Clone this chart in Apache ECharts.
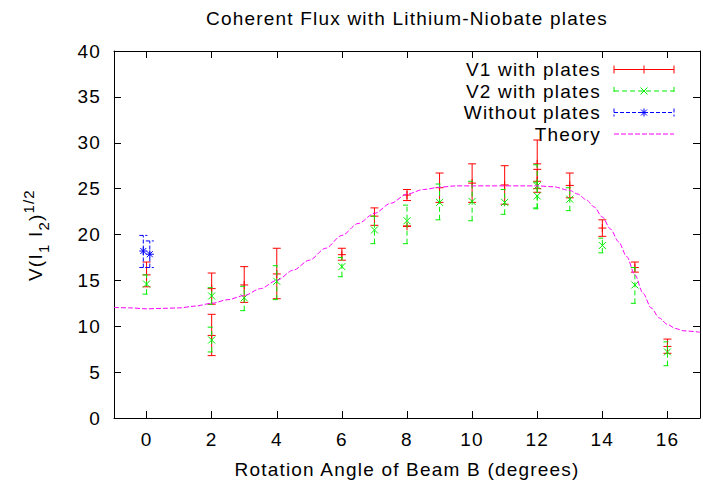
<!DOCTYPE html>
<html><head><meta charset="utf-8">
<script src="https://cdn.jsdelivr.net/npm/echarts@6/dist/echarts.min.js"></script>
<style>
html,body{margin:0;padding:0;background:#fff;}
#main{width:703px;height:484px;}
#main svg text{letter-spacing:1.2px;}
</style></head><body><div id="main"></div>
<script>
// ---- data ----
const xTickValues = [0, 2, 4, 6, 8, 10, 12, 14, 16];
const titleText = 'Coherent Flux with Lithium-Niobate plates';
const xAxisTitle = 'Rotation Angle of Beam B (degrees)';
const legendNames = ['V1 with plates', 'V2 with plates', 'Without plates', 'Theory'];

const v1X  = [0, 2, 2, 3, 4, 6, 7, 8, 8, 9, 10, 11, 12, 12, 13, 14, 15, 16];
const v1Y  = [15.6, 14.1, 9.0, 14.5, 15.7, 17.8, 22.0, 24.3, 20.9, 25.1, 25.6, 25.4, 27.7, 25.8, 25.35, 20.7, 16.4, 7.8];
const v1Lo = [14.3, 12.4, 6.8, 12.6, 13.0, 17.2, 21.0, 23.7, 20.9, 23.5, 23.5, 23.3, 25.0, 24.6, 24.0, 19.8, 15.9, 7.05];
const v1Hi = [17.0, 15.8, 11.3, 16.5, 18.5, 18.5, 22.9, 24.9, 20.9, 26.7, 27.7, 27.5, 30.3, 27.1, 26.7, 21.6, 17.0, 8.6];

const v2X  = [0, 2, 2, 3, 4, 6, 7, 8, 9, 10, 11, 12, 12, 13, 14, 15, 16];
const v2Y  = [14.6, 13.3, 8.5, 13.1, 14.9, 16.5, 20.5, 21.5, 23.5, 23.6, 23.5, 24.2, 25.3, 23.85, 18.8, 14.5, 7.2];
const v2Lo = [13.5, 12.4, 7.2, 11.7, 12.9, 15.4, 19.0, 19.0, 21.6, 21.5, 22.2, 22.8, 22.9, 22.6, 18.0, 12.5, 5.7];
const v2Hi = [15.6, 14.2, 9.9, 14.35, 16.6, 17.5, 22.0, 23.2, 25.5, 25.8, 24.9, 25.7, 27.6, 25.1, 19.6, 16.4, 8.3];

const noX  = [-0.1, 0.1];
const noY  = [18.2, 17.85];
const noLo = [16.4, 16.4];
const noHi = [19.9, 19.3];

const thX = [-1, -0.5, 0, 0.5, 1, 1.5, 2, 2.5, 3, 3.5, 4, 4.5, 5, 5.5, 6, 6.5, 7, 7.5, 8, 8.5, 9, 9.5, 10, 10.5, 11, 11.5, 12, 12.5, 13, 13.25, 13.5, 13.75, 14, 14.25, 14.5, 14.75, 15, 15.25, 15.5, 15.75, 16, 16.25, 16.5, 17];
const thY = [12.05, 12.0, 11.9, 11.95, 12.0, 12.2, 12.5, 12.9, 13.35, 14.1, 15.0, 16.1, 17.2, 18.5, 19.9, 21.2, 22.3, 23.4, 24.4, 24.9, 25.15, 25.3, 25.3, 25.3, 25.3, 25.3, 25.3, 25.2, 24.8, 24.4, 23.8, 23.0, 21.9, 20.6, 19.2, 17.6, 15.6, 13.6, 12.0, 10.9, 10.2, 9.75, 9.5, 9.35];

// ---- styles ----
const FONT = 'Liberation Sans';
const FS = 19;
const RED = '#ff0000', GREEN = '#00ee00', BLUE = '#0000ff', MAG = '#ff00ff';
const CAP = 4;

function markerShapes(kind, cx, cy, color) {
  const s = [];
  const st = {stroke: color, lineWidth: 1, fill: null};
  const L = (x1, y1, x2, y2) => s.push({type: 'line', shape: {x1, y1, x2, y2}, style: st});
  if (kind === 'plus') { L(cx - 4, cy, cx + 4, cy); L(cx, cy - 4, cx, cy + 4); }
  if (kind === 'cross') { L(cx - 3.5, cy - 3.5, cx + 3.5, cy + 3.5); L(cx - 3.5, cy + 3.5, cx + 3.5, cy - 3.5); }
  if (kind === 'star') {
    L(cx - 4, cy, cx + 4, cy); L(cx, cy - 4, cx, cy + 4);
    L(cx - 3, cy - 3, cx + 3, cy + 3); L(cx - 3, cy + 3, cx + 3, cy - 3);
  }
  return s;
}

function errSeries(name, xs, ys, lo, hi, color, dash, kind) {
  return {
    name, type: 'custom', xAxisIndex: 0, yAxisIndex: 0,
    data: xs.map((x, i) => [x, ys[i], lo[i], hi[i]]),
    encode: {x: 0, y: 1},
    clip: true,
    renderItem: function (params, api) {
      const x = api.value(0);
      const p = api.coord([x, api.value(1)]);
      const pl = api.coord([x, api.value(2)]);
      const ph = api.coord([x, api.value(3)]);
      const st = {stroke: color, lineWidth: 1, fill: null, lineDash: dash};
      const ch = [
        {type: 'line', shape: {x1: pl[0], y1: pl[1], x2: ph[0], y2: ph[1]}, style: st},
        {type: 'line', shape: {x1: pl[0] - CAP, y1: pl[1], x2: pl[0] + CAP, y2: pl[1]}, style: st},
        {type: 'line', shape: {x1: ph[0] - CAP, y1: ph[1], x2: ph[0] + CAP, y2: ph[1]}, style: st}
      ].concat(markerShapes(kind, p[0], p[1], color));
      return {type: 'group', children: ch};
    }
  };
}

// legend graphic
const legendRows = [69.5, 91, 112.5, 134];
const legendGraphics = [];
const lx1 = 614, lx2 = 674, lxm = 644;
const lcolors = [RED, GREEN, BLUE, MAG];
const ldash = [null, [5, 3], [4, 2], [5, 2]];
const lkind = ['plus', 'cross', 'star', null];
legendNames.forEach((n, i) => {
  const y = legendRows[i];
  legendGraphics.push({type: 'text', x: 601, y: y, style: {text: n, font: FS + 'px ' + FONT, fill: '#000', align: 'right', verticalAlign: 'middle'}});
  const st = {stroke: lcolors[i], lineWidth: 1, lineDash: ldash[i], fill: null};
  legendGraphics.push({type: 'line', shape: {x1: lx1, y1: y, x2: lx2, y2: y}, style: st});
  if (i < 3) {
    legendGraphics.push({type: 'line', shape: {x1: lx1, y1: y - CAP, x2: lx1, y2: y + CAP}, style: st});
    legendGraphics.push({type: 'line', shape: {x1: lx2, y1: y - CAP, x2: lx2, y2: y + CAP}, style: st});
    markerShapes(lkind[i], lxm, y, lcolors[i]).forEach(m => legendGraphics.push(m));
  }
});

// y axis title V(I1 I2)^1/2, rotated
const yTitle = {
  type: 'group', x: 42, y: 281, rotation: Math.PI / 2,
  children: [
    {type: 'text', x: 0, y: -6.3, style: {text: 'V(I', font: '19px ' + FONT, fill: '#000', verticalAlign: 'middle'}},
    {type: 'text', x: 27.9, y: 1, style: {text: '1', font: '15px ' + FONT, fill: '#000', verticalAlign: 'middle'}},
    {type: 'text', x: 37.4, y: -6.3, style: {text: ' I', font: '19px ' + FONT, fill: '#000', verticalAlign: 'middle'}},
    {type: 'text', x: 50.4, y: 1, style: {text: '2', font: '15px ' + FONT, fill: '#000', verticalAlign: 'middle'}},
    {type: 'text', x: 59.9, y: -6.3, style: {text: ')', font: '19px ' + FONT, fill: '#000', verticalAlign: 'middle'}},
    {type: 'text', x: 67.4, y: -13.7, style: {text: '1/2', font: '15px ' + FONT, fill: '#000', verticalAlign: 'middle'}}
  ]
};

const chart = echarts.init(document.getElementById('main'), null, {renderer: 'svg'});
const axisLine = {show: true, onZero: false, lineStyle: {color: '#000', width: 1}};
const option = {
  backgroundColor: '#fff',
  animation: false,
  grid: {left: 114, top: 51, width: 586, height: 367},
  xAxis: [
    {type: 'value', min: -1, max: 17, position: 'bottom',
     axisLine, splitLine: {show: false},
     axisTick: {show: true, inside: true, length: 7, customValues: xTickValues, lineStyle: {color: '#000'}},
     axisLabel: {show: true, customValues: xTickValues, margin: 12, color: '#000', fontFamily: FONT, fontSize: FS}},
    {type: 'value', min: -1, max: 17, position: 'top',
     axisLine, splitLine: {show: false},
     axisTick: {show: true, inside: true, length: 7, customValues: xTickValues, lineStyle: {color: '#000'}},
     axisLabel: {show: false}}
  ],
  yAxis: [
    {type: 'value', min: 0, max: 40, interval: 5, position: 'left',
     axisLine, splitLine: {show: false},
     axisTick: {show: true, inside: true, length: 7, lineStyle: {color: '#000'}},
     axisLabel: {show: true, margin: 13, color: '#000', fontFamily: FONT, fontSize: FS}},
    {type: 'value', min: 0, max: 40, interval: 5, position: 'right',
     axisLine, splitLine: {show: false},
     axisTick: {show: true, inside: true, length: 7, lineStyle: {color: '#000'}},
     axisLabel: {show: false}}
  ],
  graphic: [
    {type: 'text', x: 407, y: 18, style: {text: titleText, font: FS + 'px ' + FONT, fill: '#000', align: 'center', verticalAlign: 'middle'}},
    {type: 'text', x: 407, y: 469, style: {text: xAxisTitle, font: FS + 'px ' + FONT, fill: '#000', align: 'center', verticalAlign: 'middle'}},
    yTitle
  ].concat(legendGraphics),
  series: [
    errSeries(legendNames[0], v1X, v1Y, v1Lo, v1Hi, RED, null, 'plus'),
    errSeries(legendNames[1], v2X, v2Y, v2Lo, v2Hi, GREEN, [5, 3], 'cross'),
    errSeries(legendNames[2], noX, noY, noLo, noHi, BLUE, [4, 2], 'star'),
    {name: legendNames[3], type: 'line', xAxisIndex: 0, yAxisIndex: 0,
     data: thX.map((x, i) => [x, thY[i]]),
     showSymbol: false, symbol: 'none', smooth: 0.3, smoothMonotone: 'x',
     lineStyle: {color: MAG, width: 1, type: [5, 2]}, z: 3}
  ]
};
chart.setOption(option);
</script></body></html>
